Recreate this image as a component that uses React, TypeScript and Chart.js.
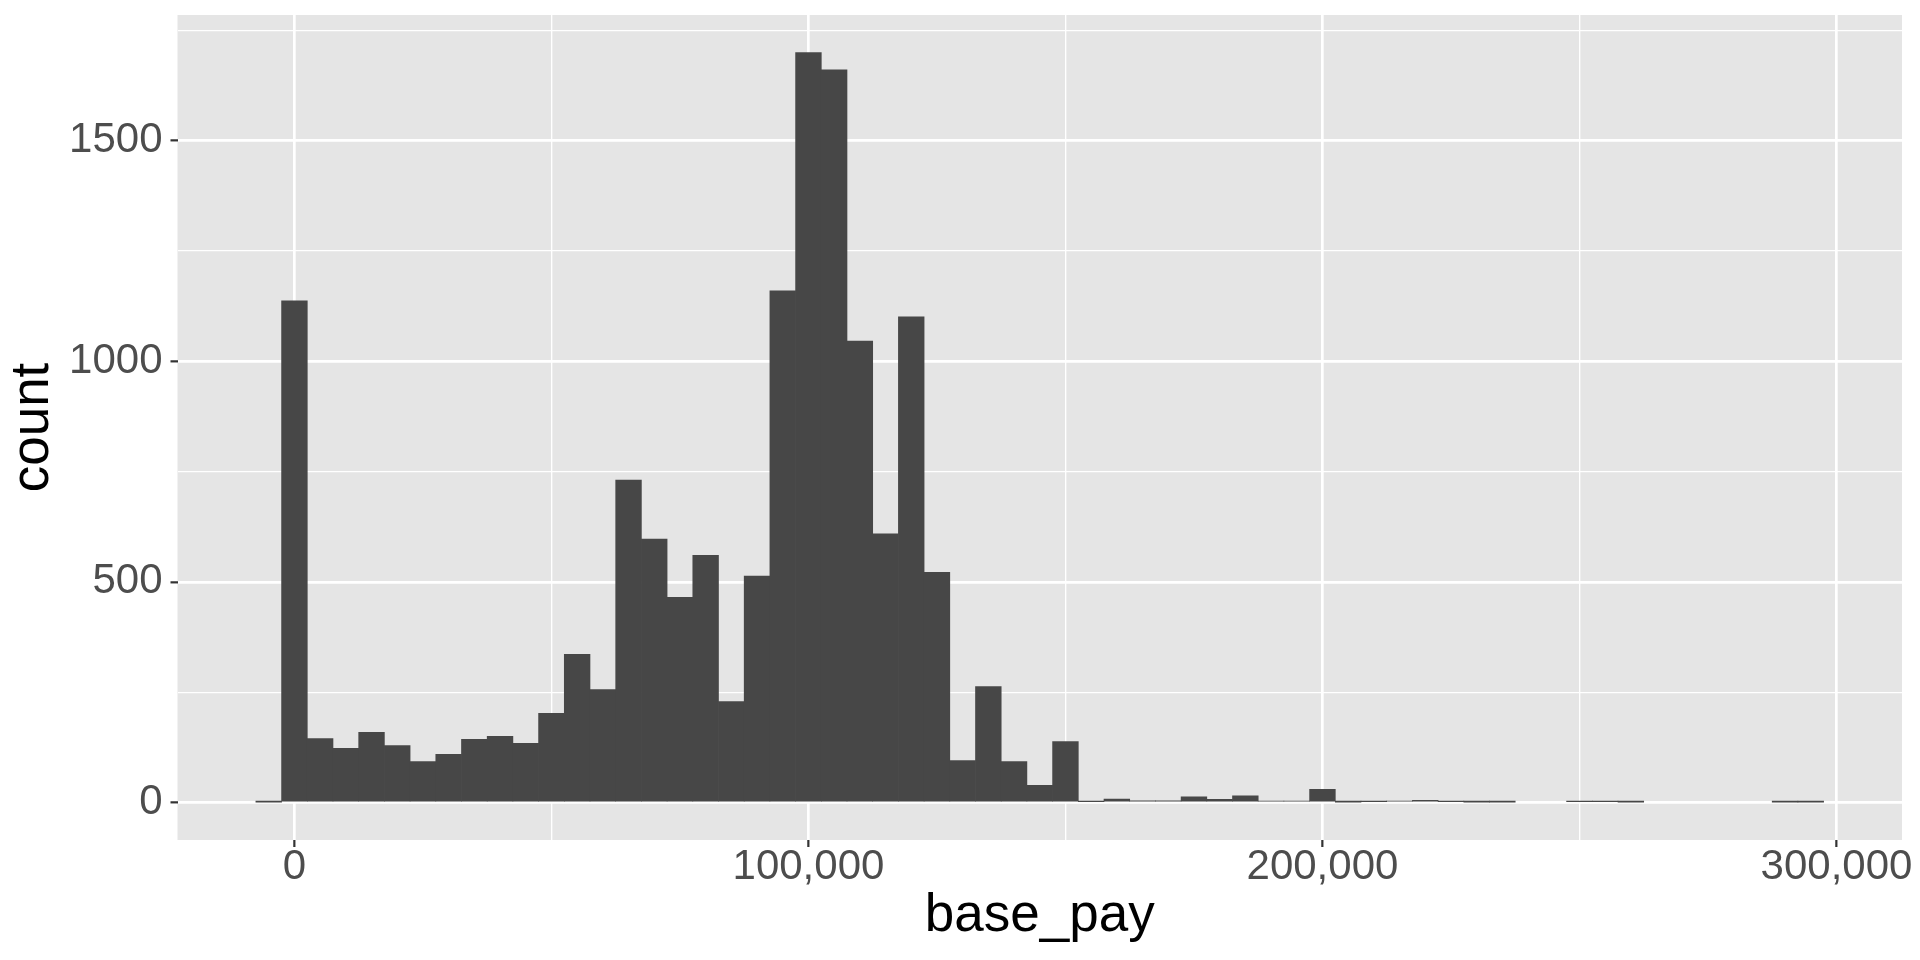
import React, { useEffect, useRef } from "react";
import { Chart, registerables } from "chart.js";

Chart.register(...registerables);

// Histogram bins (centres, binwidth 5,000) and counts
const binCenters = [
  -5000, 0, 5000, 10000, 15000, 20000, 25000, 30000, 35000, 40000,
  45000, 50000, 55000, 60000, 65000, 70000, 75000, 80000, 85000, 90000,
  95000, 100000, 105000, 110000, 115000, 120000, 125000, 130000, 135000, 140000,
  145000, 150000, 155000, 160000, 165000, 170000, 175000, 180000, 185000, 190000,
  195000, 200000, 205000, 210000, 215000, 220000, 225000, 230000, 235000, 240000,
  245000, 250000, 255000, 260000, 265000, 270000, 275000, 280000, 285000, 290000,
  295000,
];
const counts = [
  1, 1137, 145, 123, 159, 129, 93, 109, 143, 150,
  134, 202, 336, 256, 731, 597, 465, 560, 229, 513,
  1160, 1700, 1661, 1046, 609, 1101, 522, 95, 263, 93,
  39, 138, 2, 8, 4, 4, 13, 7, 15, 3,
  3, 30, 1, 2, 3, 5, 2, 1, 1, 0,
  0, 2, 2, 1, 0, 0, 0, 0, 0, 1,
  1,
];

const xTickValues = [0, 50000, 100000, 150000, 200000, 250000, 300000];
const xMajorTicks = [0, 100000, 200000, 300000];
const xTickLabels = ["0", "100,000", "200,000", "300,000"];
const yTickValues = [0, 250, 500, 750, 1000, 1250, 1500, 1750];
const yMajorTicks = [0, 500, 1000, 1500];
const yTickLabels = ["0", "500", "1000", "1500"];
const xLimits = [-22750, 312750];
const yLimits = [-85, 1785];
const xTitle = "base_pay";
const yTitle = "count";

const FONT = "'Liberation Sans', Arial, sans-serif";
const PANEL_BG = "#E5E5E5";
const BAR_FILL = "#474747";

const panelBackground = {
  id: "panelBackground",
  beforeDraw(chart: any) {
    const { ctx, chartArea } = chart;
    ctx.save();
    ctx.fillStyle = PANEL_BG;
    ctx.fillRect(chartArea.left, chartArea.top, chartArea.right - chartArea.left, chartArea.bottom - chartArea.top);
    ctx.restore();
  },
};

export default function App() {
  const canvasRef = useRef<HTMLCanvasElement | null>(null);

  useEffect(() => {
    if (!canvasRef.current) return;
    // empty bins are not drawn (as in ggplot)
    const data = binCenters.map((x, i) => ({ x, y: counts[i] === 0 ? null : counts[i] }));
    const chart = new Chart(canvasRef.current, {
      type: "bar",
      data: {
        datasets: [
          {
            data: data as any,
            backgroundColor: BAR_FILL,
            borderWidth: 0,
            barPercentage: 1,
            categoryPercentage: 1,
          },
        ],
      },
      plugins: [panelBackground],
      options: {
        responsive: false,
        animation: false,
        devicePixelRatio: 1,
        layout: { padding: { top: 15, right: 18, left: 0, bottom: 0 } },
        plugins: { legend: { display: false }, tooltip: { enabled: false } },
        scales: {
          x: {
            type: "linear",
            min: xLimits[0],
            max: xLimits[1],
            offset: false,
            afterBuildTicks: (s: any) => {
              s.ticks = xTickValues.map((v) => ({ value: v }));
            },
            afterFit: (s: any) => {
              s.height = 120;
              s.paddingLeft = 0;
              s.paddingRight = 0;
              s.paddingTop = 0;
              s.paddingBottom = 0;
            },
            border: { display: false },
            grid: {
              offset: false,
              color: "#FFFFFF",
              lineWidth: (c: any) => (xMajorTicks.includes(c.tick?.value) ? 2.7 : 1.35),
              drawTicks: true,
              tickLength: 7,
              tickWidth: 2.2,
              tickColor: (c: any) => (xMajorTicks.includes(c.tick?.value) ? "#333333" : "rgba(0,0,0,0)"),
            },
            ticks: {
              autoSkip: false,
              maxRotation: 0,
              padding: -1,
              color: "#4D4D4D",
              font: { family: FONT, size: 42, lineHeight: 1 },
              callback: (v: any) => {
                const i = xMajorTicks.indexOf(Number(v));
                return i >= 0 ? xTickLabels[i] : "";
              },
            },
            title: {
              display: true,
              text: xTitle,
              color: "#000000",
              font: { family: FONT, size: 53, lineHeight: 1 },
              padding: { top: 0, bottom: 17 },
            },
          },
          y: {
            type: "linear",
            min: yLimits[0],
            max: yLimits[1],
            afterBuildTicks: (s: any) => {
              s.ticks = yTickValues.map((v) => ({ value: v }));
            },
            afterFit: (s: any) => {
              s.width = 177.5;
              s.paddingLeft = 0;
              s.paddingRight = 0;
              s.paddingTop = 0;
              s.paddingBottom = 0;
            },
            border: { display: false },
            grid: {
              color: "#FFFFFF",
              lineWidth: (c: any) => (yMajorTicks.includes(c.tick?.value) ? 2.7 : 1.35),
              drawTicks: true,
              tickLength: 7,
              tickWidth: 2.2,
              tickColor: (c: any) => (yMajorTicks.includes(c.tick?.value) ? "#333333" : "rgba(0,0,0,0)"),
            },
            ticks: {
              autoSkip: false,
              padding: 8,
              color: "#4D4D4D",
              font: { family: FONT, size: 42, lineHeight: 1 },
              callback: (v: any) => {
                const i = yMajorTicks.indexOf(Number(v));
                return i >= 0 ? yTickLabels[i] : "";
              },
            },
            title: {
              display: true,
              text: yTitle,
              color: "#000000",
              font: { family: FONT, size: 53, lineHeight: 1 },
              padding: { top: 7, bottom: 0 },
            },
          },
        },
      },
    });
    return () => chart.destroy();
  }, []);

  return (
    <div style={{ position: "fixed", left: 0, top: 0, width: 1920, height: 960, background: "#FFFFFF" }}>
      <canvas ref={canvasRef} width={1920} height={960} style={{ display: "block" }} />
    </div>
  );
}
